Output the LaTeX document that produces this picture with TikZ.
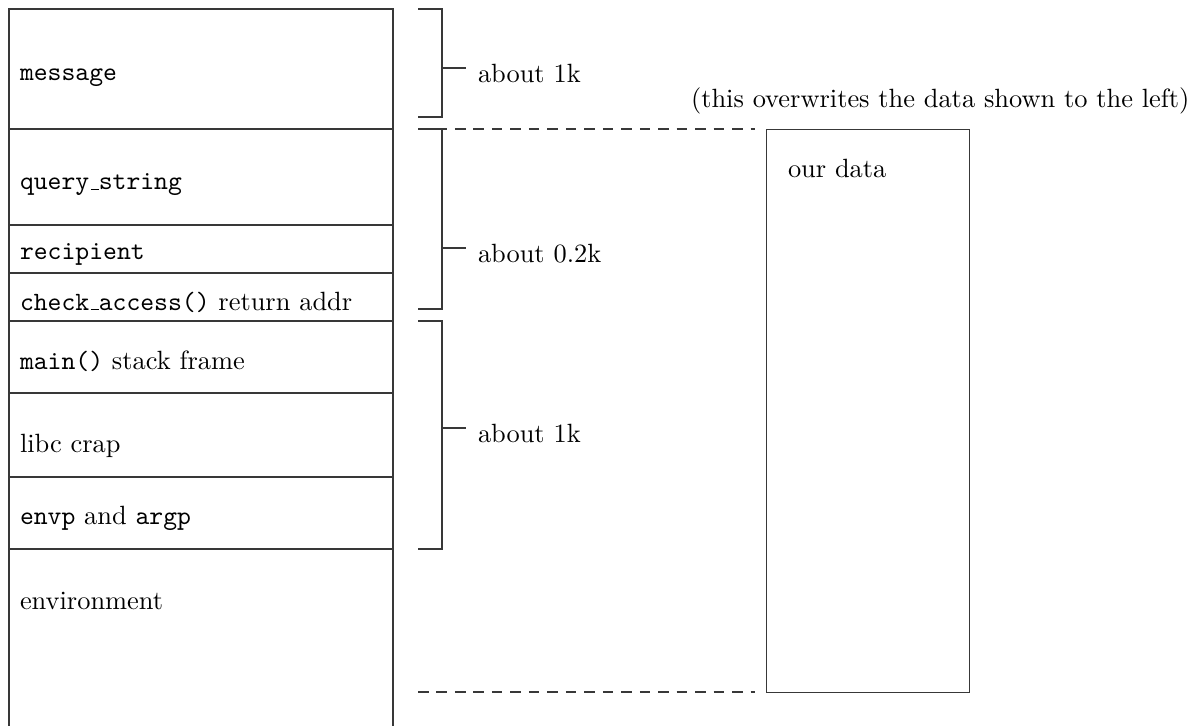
\documentclass[tikz,border=0pt]{standalone}
\newcommand\lowbar{\leavevmode\kern.06em\vbox{\hrule width.3em}}
\begin{document}
\begin{tikzpicture}[x=0.3788pt,y=-0.3788pt,
  ln/.style={draw=black!78, line width=0.5pt},
  txt/.style={anchor=base west, inner sep=0pt, outer sep=0pt},
  dsh/.style={ln, dash pattern=on 4pt off 3pt, shorten >=4.2pt}]
\useasboundingbox (0,0) rectangle (1194,726);
% memory stack
\draw[ln] (9,726) -- (9,9) -- (393,9) -- (393,726);
\foreach \yy in {129,225,273,321,393,477,549}
  \draw[ln] (9,\yy) -- (393,\yy);
\node[txt] (msg) at (20,81) {\texttt{message}};
\node[txt] (qs) at (20,190) {\texttt{query\lowbar string}};
\node[txt] (rc) at (20,260) {\texttt{recipient}};
\node[txt] (ca) at (20,310) {\texttt{check\lowbar access()} return addr};
\node[txt] (mn) at (20,370) {\texttt{main()} stack frame};
\node[txt] (lc) at (20,453) {libc crap};
\node[txt] (ea) at (20,525) {\texttt{envp} and \texttt{argp}};
\node[txt] (en) at (20,610) {environment};
% brackets
\draw[ln] (418,9) -- (442,9) -- (442,117) -- (418,117);
\draw[ln] (442,68) -- (466,68);
\node[txt] (b1) at (478,83) {about 1k};
\draw[ln] (418,129) -- (442,129) -- (442,309) -- (418,309);
\draw[ln] (442,248) -- (466,248);
\node[txt] (b2) at (478,263) {about 0.2k};
\draw[ln] (418,321) -- (442,321) -- (442,549) -- (418,549);
\draw[ln] (442,428) -- (466,428);
\node[txt] (b3) at (478,443) {about 1k};
% our data
\node[ln, draw, anchor=north west, minimum width=76.9pt, minimum height=213.3pt, inner sep=0pt] (ours) at (766,129) {};
\node[txt] (od) at (788,178) {our data};
\node[anchor=base east, inner sep=0pt] (note) at (1190,108) {(this overwrites the data shown to the left)};
\coordinate (d1) at (418,129);
\coordinate (d2) at (418,692);
\draw[dsh] (d1) -- (d1 -| ours.west);
\draw[dsh] (d2) -- (d2 -| ours.west);
\end{tikzpicture}
\end{document}
